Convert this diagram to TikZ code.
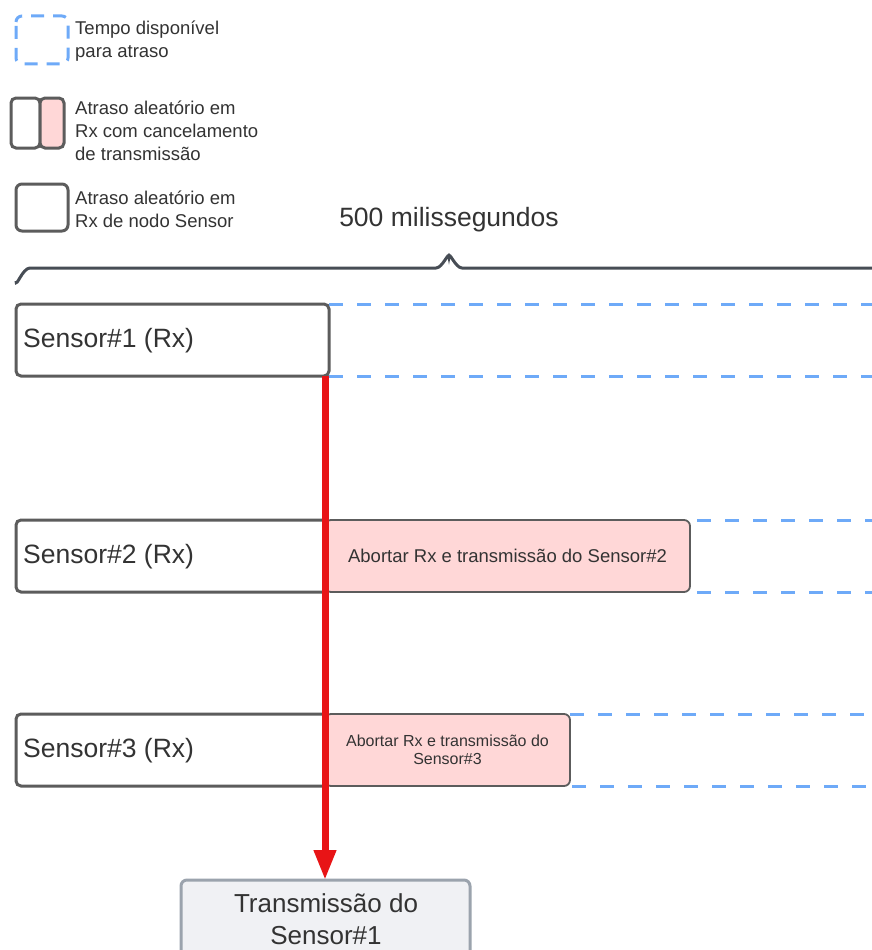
\documentclass[tikz,border=0pt]{standalone}
\usepackage{fontspec}
\setmainfont{Liberation Sans}
\usetikzlibrary{arrows.meta,calc}
\definecolor{txt}{HTML}{333333}
\definecolor{bluedash}{HTML}{6EAAF8}
\definecolor{boxgray}{HTML}{5C5C5C}
\definecolor{pinkfill}{HTML}{FFD7D7}
\definecolor{bracegray}{HTML}{474D55}
\definecolor{redarrow}{HTML}{E81416}
\definecolor{tfill}{HTML}{F0F1F4}
\definecolor{tborder}{HTML}{9BA3AD}
\tikzset{
  sensorbox/.style={draw=boxgray, line width=3pt, rounded corners=5pt, fill=white, anchor=north west, inner sep=0pt, outer sep=0pt},
  abortbox/.style={draw=boxgray, line width=1.8pt, rounded corners=6pt, fill=pinkfill, anchor=north west, inner sep=0pt, outer sep=0pt, text=txt, align=center},
  availline/.style={draw=bluedash, line width=3pt, dash pattern=on 14pt off 14pt},
  legendtxt/.style={anchor=west, text=txt, font=\fontsize{18.5pt}{23pt}\selectfont, align=left, inner sep=0pt},
  senstxt/.style={anchor=west, text=txt, font=\fontsize{26.5pt}{30pt}\selectfont, inner sep=0pt},
  bracestyle/.style={draw=bracegray, line width=3pt},
  redline/.style={draw=redarrow, line width=7pt, -{Triangle[length=30pt,width=21pt]}},
  txbox/.style={draw=tborder, line width=3pt, rounded corners=6pt, fill=tfill, anchor=north west, inner sep=0pt, outer sep=0pt, text=txt, align=center}
}
\begin{document}
\begin{tikzpicture}[x=1pt,y=-1pt]
\useasboundingbox (0,0) rectangle (872,950);
\clip (0,0) rectangle (872,950);
\fill[white] (0,0) rectangle (872,950);
% legend
\draw[draw=bluedash, line width=3pt, rounded corners=6pt, dash pattern=on 13pt off 9pt, dash phase=-4pt] (16,16) rectangle (68,64);
\node[legendtxt] (l1) at (75,41) {Tempo disponível\\para atraso};
\draw[draw=boxgray, line width=3pt, rounded corners=5pt, fill=white] (11,98) rectangle (40,148);
\draw[draw=boxgray, line width=3pt, rounded corners=5pt, fill=pinkfill] (40,98) rectangle (64,148);
\node[legendtxt] (l2) at (75,131) {Atraso aleatório em\\Rx com cancelamento\\de transmissão};
\draw[draw=boxgray, line width=3pt, rounded corners=6pt, fill=white] (16,184) rectangle (68,231);
\node[legendtxt] (l3) at (75,209) {Atraso aleatório em\\Rx de nodo Sensor};
% title and brace
\node[text=txt, font=\fontsize{26.5pt}{30pt}\selectfont, inner sep=0pt] (title) at (449,220) {500 milissegundos};
\draw[bracestyle] (16,281) to[out=-90,in=180] (30,268) -- (436,268) to[out=0,in=90] (449,257) to[out=90,in=180] (462,268) -- (880,268);
% sensor 1
\node[sensorbox, minimum width=313pt, minimum height=72pt] (s1) at (16,304) {};
\node[senstxt] (s1t) at ($(s1.west)+(7,1)$) {Sensor\#1 (Rx)};
\draw[availline] (s1.north east) -- (880,304);
\draw[availline] (s1.south east) -- (880,376);
% sensor 2
\node[sensorbox, minimum width=313pt, minimum height=72pt] (s2) at (16,520) {};
\node[senstxt] (s2t) at ($(s2.west)+(7,1)$) {Sensor\#2 (Rx)};
\node[abortbox, minimum width=365pt, minimum height=72pt, font=\fontsize{18.5pt}{22pt}\selectfont] (a2) at (325,520) {Abortar Rx e transmissão do Sensor\#2};
\draw[availline] ($(a2.north east)+(7,0)$) -- (880,520);
\draw[availline] ($(a2.south east)+(7,0)$) -- (880,592);
% sensor 3
\node[sensorbox, minimum width=313pt, minimum height=72pt] (s3) at (16,714) {};
\node[senstxt] (s3t) at ($(s3.west)+(7,1)$) {Sensor\#3 (Rx)};
\node[abortbox, minimum width=245pt, minimum height=72pt, font=\fontsize{16pt}{20pt}\selectfont] (a3) at (325,714) {Abortar Rx e transmissão do\\[-2pt]Sensor\#3};
\draw[availline] (a3.north east) -- (880,714);
\draw[availline] ($(a3.south east)+(2,0)$) -- (880,786);
% transmission box
\node[txbox, minimum width=289pt, minimum height=100pt] (tx) at (181,880) {};
\node[text=txt, font=\fontsize{26pt}{32pt}\selectfont, align=center, inner sep=0pt] (txt) at (326,919) {Transmissão do\\Sensor\#1};
% red arrow
\coordinate (rs) at ($(s1.south east)+(-4,0)$);
\draw[redline] (rs) -- (rs |- tx.north);
\end{tikzpicture}
\end{document}
